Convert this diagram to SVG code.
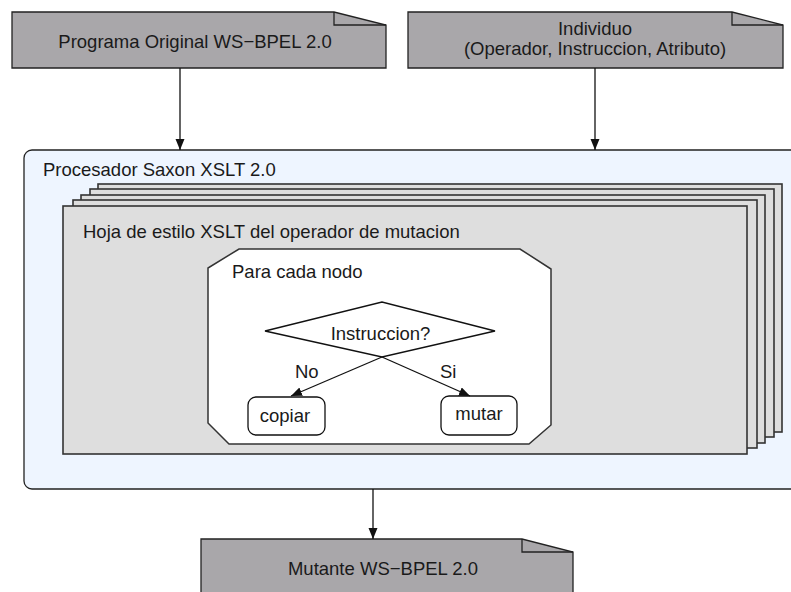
<svg xmlns="http://www.w3.org/2000/svg" width="791" height="592" viewBox="0 0 791 592">
<style>
text{font-family:"Liberation Sans",Arial,sans-serif;font-size:18.5px;fill:#1a1a1a}
.doc{fill:#a9a7aa;stroke:#222;stroke-width:1.3}
.fold{fill:none;stroke:#222;stroke-width:1.3}
.page{fill:#dedede;stroke:#333;stroke-width:1.6}
.outer{fill:#eef5ff;stroke:#222;stroke-width:1.3}
.oct{fill:#fff;stroke:#333;stroke-width:1.5}
.box{fill:#fff;stroke:#111;stroke-width:1.3}
.edge{fill:none;stroke:#111;stroke-width:1.3}
.mid{text-anchor:middle}
</style>
<defs>
<marker id="ah" markerUnits="userSpaceOnUse" markerWidth="12" markerHeight="10" refX="11" refY="4.5" orient="auto">
<path d="M0,0 L11,4.5 L0,9 z" fill="#111"/>
</marker>
</defs>
<g id="procesador">
<rect class="outer" x="24" y="150" width="800" height="339" rx="8"/>
<text x="43" y="176">Procesador Saxon XSLT 2.0</text>
</g>
<g id="hojas">
<rect class="page" x="98" y="184" width="684" height="248"/>
<rect class="page" x="90" y="189" width="684" height="248"/>
<rect class="page" x="81" y="195" width="684" height="248"/>
<rect class="page" x="73" y="200" width="684" height="248"/>
<rect class="page" x="63" y="206" width="684" height="248"/>
<text x="83" y="238">Hoja de estilo XSLT del operador de mutacion</text>
</g>
<g id="paracada">
<polygon class="oct" points="239,249 520,249 551,269 551,425 529,444 229,444 208,423 208,268"/>
<text x="232" y="278">Para cada nodo</text>
</g>
<g id="instruccion">
<polygon class="edge" points="265,331 382,302 495,331 382,357"/>
<text class="mid" x="380.5" y="340">Instruccion?</text>
</g>
<g id="copiar">
<rect class="box" x="248" y="397" width="77" height="38" rx="8"/>
<text class="mid" x="285" y="422">copiar</text>
</g>
<g id="mutar">
<rect class="box" x="441" y="396" width="76" height="39" rx="8"/>
<text class="mid" x="479" y="420">mutar</text>
</g>
<g id="programa">
<path class="doc" d="M12,12 H334 L386,25 V68 H12 Z"/>
<path class="fold" d="M334,12 V25 H386"/>
<text class="mid" x="195" y="47.5">Programa Original WS−BPEL 2.0</text>
</g>
<g id="individuo">
<path class="doc" d="M408,12 H732 L783,25 V68 H408 Z"/>
<path class="fold" d="M732,12 V25 H783"/>
<text class="mid" x="595" y="35.3">Individuo</text>
<text class="mid" x="595" y="55">(Operador, Instruccion, Atributo)</text>
</g>
<g id="mutante">
<path class="doc" d="M201,539 H522 L573,552 V600 H201 Z"/>
<path class="fold" d="M522,539 V552 H573"/>
<text class="mid" x="383" y="575">Mutante WS−BPEL 2.0</text>
</g>
<g id="connectors">
<line class="edge" x1="180" y1="68" x2="180" y2="150" marker-end="url(#ah)"/>
<line class="edge" x1="595" y1="68" x2="595" y2="150" marker-end="url(#ah)"/>
<line class="edge" x1="373" y1="489" x2="373" y2="539" marker-end="url(#ah)"/>
<line class="edge" x1="382" y1="357" x2="291" y2="396" marker-end="url(#ah)"/>
<line class="edge" x1="382" y1="357" x2="470" y2="396" marker-end="url(#ah)"/>
<text x="295" y="378">No</text>
<text x="440" y="378">Si</text>
</g>
</svg>
